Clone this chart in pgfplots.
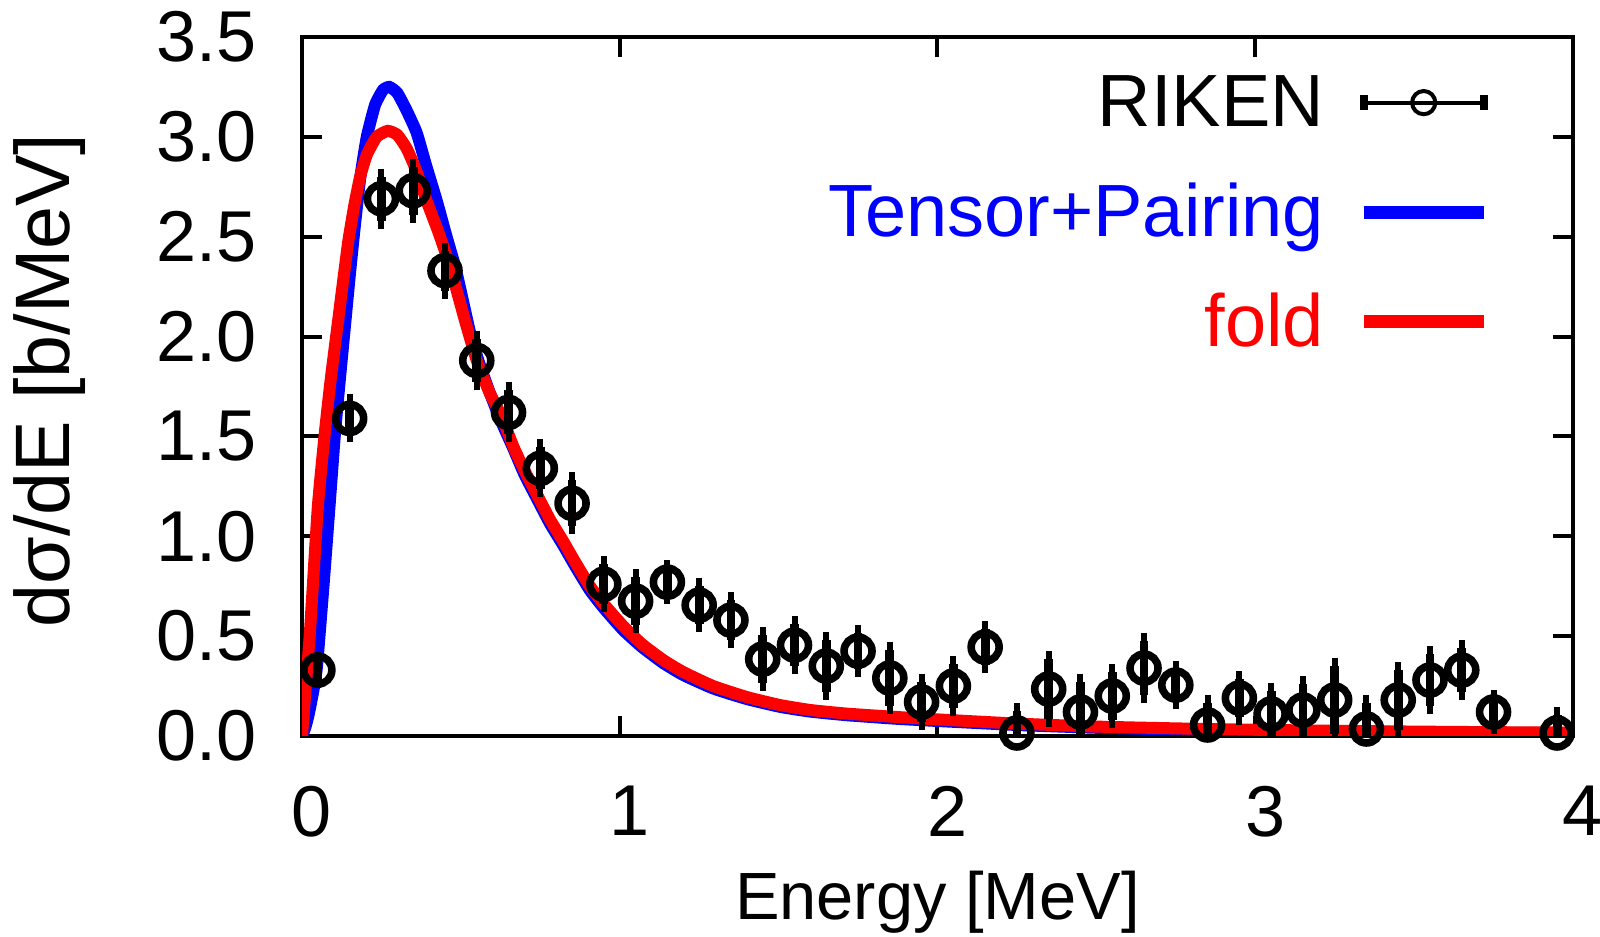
\documentclass[border=0pt]{standalone}
\usepackage{fontspec}
\setmainfont{Liberation Sans}
\usepackage{pgfplots}
\pgfplotsset{compat=1.18}
\usepackage{pgfplotstable}

\pgfplotstableread{
x y e
0.05 0.33 0.05
0.15 1.59 0.08
0.25 2.69 0.11
0.35 2.73 0.12
0.45 2.33 0.10
0.55 1.88 0.11
0.65 1.62 0.11
0.75 1.34 0.105
0.85 1.165 0.115
0.95 0.76 0.10
1.05 0.675 0.12
1.15 0.77 0.07
1.25 0.655 0.095
1.35 0.58 0.10
1.45 0.385 0.12
1.55 0.455 0.105
1.65 0.35 0.13
1.75 0.425 0.09
1.85 0.29 0.14
1.95 0.17 0.10
2.05 0.25 0.11
2.15 0.445 0.09
2.25 0.015 0.11
2.35 0.235 0.15
2.45 0.12 0.15
2.55 0.20 0.12
2.65 0.34 0.135
2.75 0.255 0.08
2.85 0.055 0.11
2.95 0.19 0.095
3.05 0.11 0.115
3.15 0.13 0.13
3.25 0.18 0.17
3.35 0.035 0.13
3.45 0.18 0.15
3.55 0.28 0.13
3.65 0.33 0.11
3.75 0.12 0.07
3.95 0.015 0.09
}\riken

\pgfplotstableread{
x y
0 0
0.01 0.04
0.02 0.10
0.035 0.22
0.046 0.33
0.055 0.50
0.07 0.80
0.088 1.18
0.104 1.52
0.12 1.80
0.135 2.05
0.15 2.30
0.164 2.52
0.183 2.79
0.204 3.00
0.23 3.16
0.255 3.235
0.275 3.25
0.30 3.22
0.33 3.13
0.361 3.02
0.39 2.86
0.424 2.68
0.455 2.50
0.482 2.35
0.505 2.19
0.529 2.02
0.555 1.88
0.586 1.74
0.62 1.60
0.665 1.44
0.70 1.31
0.739 1.19
0.78 1.065
0.822 0.955
0.86 0.85
0.906 0.73
0.95 0.64
1.011 0.53
1.07 0.445
1.137 0.365
1.2 0.305
1.294 0.238
1.4 0.185
1.504 0.146
1.6 0.122
1.714 0.104
1.872 0.086
2.0 0.075
2.25 0.055
2.5 0.041
2.75 0.033
3.0 0.027
3.25 0.022
3.5 0.019
3.75 0.016
4.0 0.014
}\tensor

\pgfplotstableread{
x y
0 0
0.012 0.25
0.025 0.52
0.05 1.15
0.072 1.52
0.09 1.78
0.109 2.02
0.128 2.26
0.146 2.48
0.165 2.66
0.183 2.80
0.204 2.91
0.235 3.00
0.27 3.03
0.30 3.01
0.33 2.94
0.36 2.83
0.392 2.68
0.43 2.52
0.466 2.35
0.513 2.08
0.55 1.88
0.59 1.72
0.628 1.60
0.665 1.45
0.70 1.33
0.739 1.21
0.78 1.085
0.822 0.975
0.86 0.87
0.906 0.75
0.95 0.66
1.011 0.55
1.07 0.46
1.137 0.38
1.2 0.32
1.294 0.25
1.4 0.195
1.504 0.155
1.6 0.13
1.714 0.112
1.872 0.095
2.0 0.083
2.25 0.062
2.5 0.047
2.75 0.038
3.0 0.031
3.25 0.026
3.5 0.022
3.75 0.019
4.0 0.017
}\fold

\begin{document}
\begin{tikzpicture}
\begin{axis}[
  at={(0pt,0pt)}, anchor=south west,
  scale only axis,
  width=317.75pt, height=174.75pt,
  xmin=0, xmax=4, ymin=0, ymax=3.5,
  xtick={0,1,2,3,4},
  ytick={0,0.5,1,1.5,2,2.5,3,3.5},
  yticklabel style={/pgf/number format/fixed, /pgf/number format/fixed zerofill, /pgf/number format/precision=1},
  /pgf/number format/assume math mode=true,
  tick align=inside,
  major tick length=5pt,
  every tick/.style={black, line width=1pt},
  axis line style={line width=1pt},
  font=\fontsize{18}{21.6}\selectfont,
  ticklabel style={font=\fontsize{18}{21.6}\selectfont, inner sep=0pt},
  yticklabel style={anchor=east, xshift=-11.25pt},
  xticklabel style={anchor=north, yshift=-12.25pt, xshift=2.5pt},
  xlabel={Energy [MeV]},
  ylabel={dσ/dE [b/MeV]},
  xlabel style={at={(rel axis cs:0.5,0)}, anchor=base, yshift=-46pt, inner sep=0pt, font=\fontsize{16.7}{20}\selectfont},
  ylabel style={at={(rel axis cs:0,0.5)}, anchor=center, yshift=63pt, xshift=1.5pt, inner sep=0pt, font=\fontsize{19.3}{23}\selectfont},
  legend plot pos=right,
  legend cell align=right,
  legend style={at={(rel axis cs:0.9355,0.951)}, anchor=north east, draw=none, fill=none,
    inner sep=0pt, row sep=10pt,
    font=\fontsize{18.5}{22}\selectfont,
    nodes={inner sep=0pt, text height=13.5pt, text depth=4pt}},
]
\addplot[blue, line width=3pt, smooth, tension=0.3, forget plot] table[x=x,y=y] {\tensor};
\addplot[red, line width=3pt, smooth, tension=0.3, forget plot] table[x=x,y=y] {\fold};
\addplot[black, forget plot, only marks, mark=o, mark size=3.5pt, mark options={line width=1.9pt, fill=none},
  error bars/.cd, y dir=both, y explicit,
  error bar style={line width=2.2pt},
  error mark=-, error mark options={line width=1.5pt, mark size=2pt}]
  table[x=x, y=y, y error=e] {\riken};
\addlegendimage{black, legend image code/.code={
   \path (1.5pt,0pt);
   \draw[black, line width=1pt] (11.25pt,1.1pt) -- (41.25pt,1.1pt);
   \fill[black] (10.4pt,-0.5pt) rectangle (12.1pt,2.7pt);
   \fill[black] (40.4pt,-0.5pt) rectangle (42.1pt,2.7pt);
   \draw[black, line width=1pt, fill=white] (26.25pt,1.1pt) circle (2.9pt);
   \draw[black, line width=1pt] (23.25pt,1.1pt) -- (29.25pt,1.1pt);}}
\addlegendentry{RIKEN}
\addlegendimage{blue, legend image code/.code={\path (1.5pt,0pt); \draw[blue, line width=3.25pt] (11.25pt,1.1pt) -- (41.25pt,1.1pt);}}
\addlegendentry{\textcolor{blue}{Tensor+Pairing}}
\addlegendimage{red, legend image code/.code={\path (1.5pt,0pt); \draw[red, line width=3.25pt] (11.25pt,1.4pt) -- (41.25pt,1.4pt);}}
\addlegendentry{\textcolor{red}{fold}}
\end{axis}
\pgfresetboundingbox
\useasboundingbox (-75.5pt,-50.25pt) rectangle (324.5pt,184pt);
\end{tikzpicture}
\end{document}
